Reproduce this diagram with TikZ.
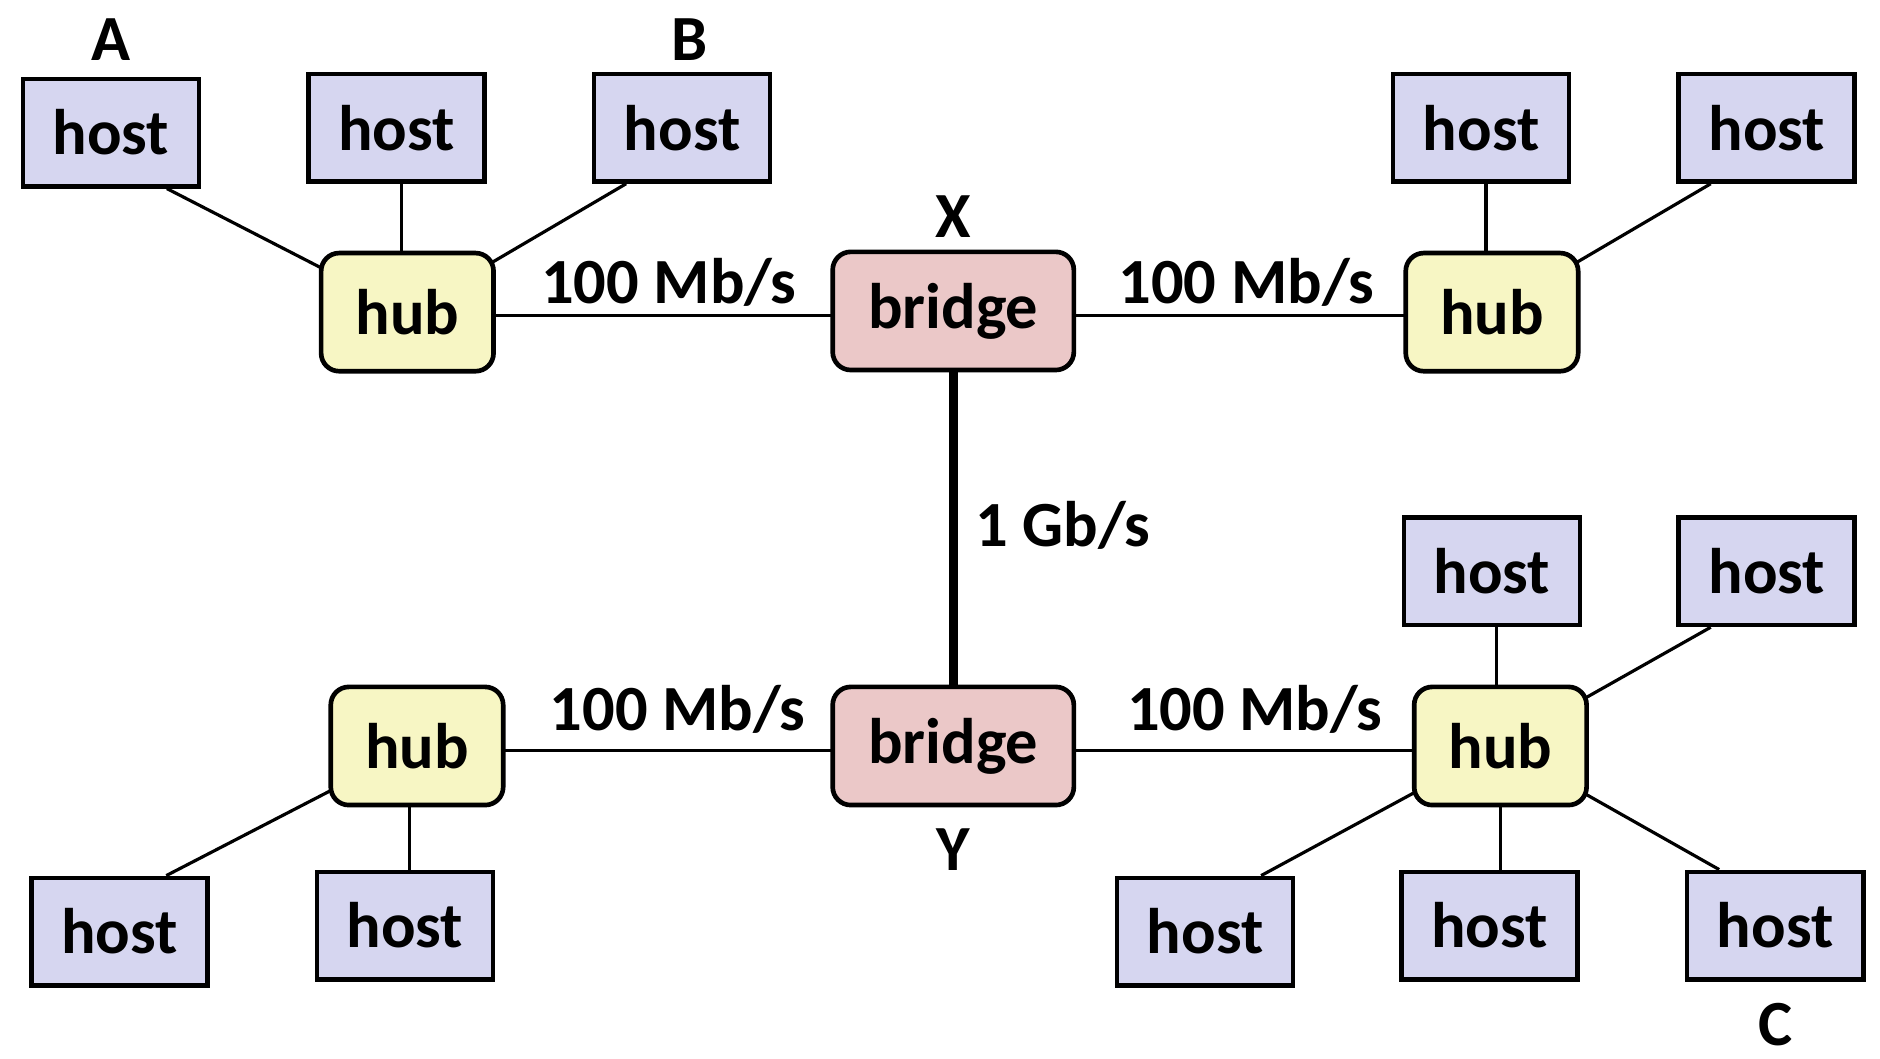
\documentclass[tikz,border=0pt]{standalone}
\usepackage{fontspec}
\setmainfont{Carlito}
\usetikzlibrary{backgrounds}
\definecolor{hostfill}{RGB}{214,214,240}
\definecolor{hubfill}{RGB}{247,246,196}
\definecolor{bridgefill}{RGB}{235,200,200}
\begin{document}
\begin{tikzpicture}[x=0.01cm,y=-0.01cm,
  every node/.style={font=\bfseries\fontsize{15.2}{18}\selectfont},
  host/.style={draw,fill=hostfill,line width=1.1pt,minimum width=1.46cm,minimum height=0.89cm,inner sep=0pt},
  hub/.style={draw,fill=hubfill,rounded corners=0.15cm,line width=1.1pt,minimum width=1.43cm,minimum height=0.98cm,inner sep=0pt},
  bridge/.style={hub,fill=bridgefill,minimum width=2cm},
  link/.style={line width=0.75pt}]
  \useasboundingbox (0,0) rectangle (1560,878);
  \node[bridge] (bx) at (791,258) {bridge};
  \node[bridge] (by) at (791,619) {bridge};
  \node[hub] (hubtl) at (338,259) {hub};
  \node[hub] (hubtr) at (1238,259) {hub};
  \node[hub] (hubbl) at (346,619) {hub};
  \node[hub] (hubbr) at (1245,619) {hub};
  \node[host] (hosta) at (92,110) {host};
  \node[host] (hosttl) at (329,106) {host};
  \node[host] (hostb) at (566,106) {host};
  \node[host] (hosttr) at (1229,106) {host};
  \node[host] (hostfr) at (1466,106) {host};
  \node[host] (hostbr) at (1238,474) {host};
  \node[host] (hostbf) at (1466,474) {host};
  \node[host] (hostbl) at (99,773) {host};
  \node[host] (hostbm) at (336,768) {host};
  \node[host] (hostlo) at (1000,773) {host};
  \node[host] (hostmo) at (1236,768) {host};
  \node[host] (hostc) at (1473,768) {host};
  \node (la) at (92,33) {A};
  \node (lb) at (572,33) {B};
  \node (lx) at (791,180) {X};
  \node (ly) at (791,705) {Y};
  \node (lc) at (1473,850) {C};
  \node (rtl) at (555,234) {100 Mb/s};
  \node (rtr) at (1034,234) {100 Mb/s};
  \node (rbl) at (562,589) {100 Mb/s};
  \node (rbr) at (1041,589) {100 Mb/s};
  \node (rg) at (882,436) {1 Gb/s};
  \begin{scope}[on background layer]
    \draw[link] (hosta.-45) -- (hubtl.center);
    \draw[link] (hosttl.south -| hubtl.center) ++(-5,0) -- ++(0,100);
    \draw[link] (hostb.-135) -- (hubtl.center);
    \draw[link] (hosttr.south -| hubtr.center) ++(-5,0) -- ++(0,100);
    \draw[link] (hostfr.-135) -- (hubtr.center);
    \draw[link] (hostbr.south -| hubbr.center) ++(-3,0) -- ++(0,100);
    \draw[link] (hostbf.-135) -- (hubbr.center);
    \draw[link] (hostbl.50) -- (hubbl.center);
    \draw[link] (hostbm.north -| hubbl.center) ++(-6,0) -- ++(0,-100);
    \draw[link] (hostlo.45) -- (hubbr.center);
    \draw[link] (hostmo.north -| hubbr.center) -- (hubbr.center);
    \draw[link] (hostc.135) -- (hubbr.center);
    \foreach \h in {hubtl,hubtr}
      \draw[link] (bx.center) ++(0,4) -- (\h.center |- 0,262);
    \foreach \h in {hubbl,hubbr}
      \draw[link] (by.center) ++(0,4) -- (\h.center |- 0,623);
    \draw[line width=2pt] (bx.center) -- (by.center);
  \end{scope}
\end{tikzpicture}
\end{document}
